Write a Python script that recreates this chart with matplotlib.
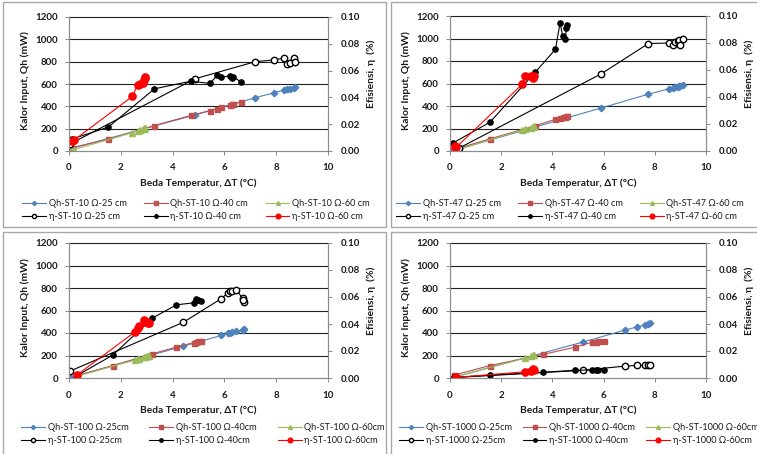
import matplotlib
matplotlib.use("Agg")
import matplotlib.pyplot as plt
from matplotlib.patches import Rectangle

plt.rcParams["font.family"] = ["Lato", "DejaVu Sans"]

W, H = 757, 454

# ST-10
dt_10_25 = [0.05, 4.85, 7.2, 7.9, 8.32, 8.42, 8.55, 8.7, 8.74]
qh_10_25 = [20, 322, 478, 520, 548, 552, 556, 565, 572]
eta_10_25 = [0.0053, 0.0538, 0.0667, 0.0679, 0.0694, 0.0649, 0.0654, 0.0692, 0.0662]
dt_10_40 = [0.1, 1.52, 3.3, 4.7, 5.45, 5.72, 5.85, 6.2, 6.28, 6.35, 6.63]
qh_10_40 = [30, 104, 228, 318, 362, 380, 390, 410, 418, 422, 440]
eta_10_40 = [0.0088, 0.0179, 0.0464, 0.0521, 0.0504, 0.0567, 0.0550, 0.0560, 0.0546, 0.0550, 0.0518]
dt_10_60 = [0.12, 0.18, 2.45, 2.65, 2.75, 2.85, 2.9, 2.93, 2.95]
qh_10_60 = [8, 12, 165, 180, 186, 194, 200, 205, 210]
eta_10_60 = [0.0071, 0.0079, 0.0408, 0.0496, 0.0500, 0.0508, 0.0529, 0.0546, 0.0554]

# ST-47
dt_47_25 = [0.35, 5.9, 7.75, 8.55, 8.7, 8.8, 8.9, 8.95, 9.0, 9.1]
qh_47_25 = [18, 382, 505, 553, 560, 566, 572, 576, 580, 588]
eta_47_25 = [0.0021, 0.0571, 0.0796, 0.0800, 0.0782, 0.0807, 0.0818, 0.0825, 0.0788, 0.0833]
dt_47_40 = [0.12, 1.56, 3.33, 4.12, 4.3, 4.4, 4.5, 4.55, 4.58]
qh_47_40 = [10, 108, 225, 282, 295, 300, 305, 310, 312]
eta_47_40 = [0.0060, 0.0213, 0.0583, 0.0754, 0.0950, 0.0854, 0.0833, 0.0908, 0.0933]
dt_47_60 = [0.2, 0.25, 2.82, 2.93, 3.18, 3.25, 3.28]
qh_47_60 = [5, 8, 188, 194, 208, 214, 220]
eta_47_60 = [0.0038, 0.0029, 0.0493, 0.0554, 0.0554, 0.0542, 0.0558]

# ST-100
dt_100_25 = [0.05, 4.42, 5.88, 6.15, 6.2, 6.3, 6.45, 6.7, 6.75, 6.72]
qh_100_25 = [5, 283, 378, 396, 400, 408, 415, 425, 435, 430]
eta_100_25 = [0.0052, 0.0413, 0.0588, 0.0633, 0.0642, 0.0646, 0.0654, 0.0592, 0.0563, 0.0575]
dt_100_40 = [0.3, 1.7, 3.22, 4.15, 4.82, 4.92, 5.0, 5.08]
qh_100_40 = [20, 111, 215, 275, 315, 320, 325, 328]
eta_100_40 = [0.0017, 0.0171, 0.0444, 0.0542, 0.0557, 0.0583, 0.0575, 0.0567]
dt_100_60 = [0.3, 2.55, 2.65, 2.72, 2.9, 2.95, 3.0, 3.05, 3.1]
qh_100_60 = [15, 160, 165, 170, 186, 190, 194, 197, 200]
eta_100_60 = [0.0021, 0.0342, 0.0367, 0.0383, 0.0427, 0.0417, 0.0413, 0.0407, 0.0410]

# ST-1000
dt_1000_25 = [0.2, 5.2, 6.82, 7.32, 7.6, 7.75, 7.8]
qh_1000_25 = [10, 320, 425, 455, 470, 480, 488]
eta_1000_25 = [0.0004, 0.0057, 0.0088, 0.0093, 0.0093, 0.0093, 0.0096]
dt_1000_40 = [0.15, 1.55, 3.65, 4.9, 5.55, 5.7, 5.8, 6.0]
qh_1000_40 = [25, 110, 210, 275, 318, 322, 326, 330]
eta_1000_40 = [0.0004, 0.0021, 0.0043, 0.0057, 0.0060, 0.0062, 0.0062, 0.0060]
dt_1000_60 = [0.22, 2.92, 3.18, 3.25, 3.3]
qh_1000_60 = [10, 177, 198, 205, 202]
eta_1000_60 = [0.0004, 0.0046, 0.0052, 0.0063, 0.0057]

qh_ticks = [0, 200, 400, 600, 800, 1000, 1200]
eta_ticks = [0.00, 0.02, 0.04, 0.06, 0.08, 0.10]
dt_ticks = [0, 2, 4, 6, 8, 10]

QH_STYLE = [dict(color="#4F81BD", marker="D", ms=3.3),
            dict(color="#C0504D", marker="s", ms=3.6),
            dict(color="#9BBB59", marker="^", ms=4.2)]
ETA_STYLE = [dict(color="black", marker="o", ms=4.6, mfc="white", mec="black"),
             dict(color="black", marker="o", ms=3.8),
             dict(color="#FF0000", marker="o", ms=5.2)]
AXIS_GREY = "#8C8C8C"
TEXT = "#1A1A1A"


def fx(px):
    return px / W


def fy(py):
    return 1 - py / H


def draw_panel(fig, box, name, gap, series, legend_at, colspace):
    left, top, right, bottom = box
    ax = fig.add_axes([fx(left), fy(bottom), fx(right - left), (bottom - top) / H])
    ax2 = ax.twinx()

    handles = []
    for (dt, qh, eta, cm), qs, es in zip(series, QH_STYLE, ETA_STYLE):
        h1, = ax.plot(dt, qh, lw=0.8, label="Qh-ST-%s Ω-%s%scm" % (name, cm, gap), **qs)
        h2, = ax2.plot(dt, eta, lw=0.8, label="η-ST-%s Ω-%s%scm" % (name, cm, gap), **es)
        handles += [h1, h2]

    ax.set_xlim(0, 10)
    ax.set_ylim(0, 1200)
    ax2.set_ylim(0, 0.10)
    ax.set_xticks(dt_ticks)
    ax.set_yticks(qh_ticks)
    ax2.set_yticks(eta_ticks)
    ax2.set_yticklabels(["%.2f" % t for t in eta_ticks])
    for g in qh_ticks[1:]:
        ax.axhline(g, color="#202020", lw=0.8, zorder=0.5, clip_on=False)
    for a in (ax, ax2):
        for side in ("left", "right", "bottom"):
            a.spines[side].set_color(AXIS_GREY)
            a.spines[side].set_linewidth(0.8)
        a.spines["top"].set_visible(False)
        a.tick_params(length=3, width=0.7, color=AXIS_GREY, labelsize=7,
                      labelcolor=TEXT, pad=2)
        for lab in a.get_xticklabels() + a.get_yticklabels():
            lab.set_fontweight("bold")
    ax.tick_params(axis="x", pad=6)
    ax.tick_params(axis="y", pad=5)
    ax2.tick_params(axis="y", pad=6)

    mid = (top + bottom) / 2
    fig.text(fx((left + right) / 2), fy(bottom + 32), "Beda Temperatur, ΔT (°C)",
             ha="center", va="center", fontsize=7.3, fontweight="bold", color=TEXT)
    fig.text(fx(left - 44), fy(mid - 3), "Kalor Input, Qh (mW)", rotation=90,
             ha="center", va="center", fontsize=7.5, fontweight="bold", color=TEXT)
    fig.text(fx(right + 43), fy(mid - 10), "Efisiensi, η  (%)", rotation=90,
             ha="center", va="center", fontsize=7.5, fontweight="bold", color=TEXT)

    leg = fig.legend(handles, [h.get_label() for h in handles], loc="upper left",
                     bbox_to_anchor=(fx(legend_at[0]), fy(legend_at[1])), ncol=3,
                     frameon=False, fontsize=6.6, handlelength=2.6, handletextpad=0.3,
                     columnspacing=colspace, labelspacing=0.45, borderpad=0,
                     borderaxespad=0, markerscale=0.65)
    for t in leg.get_texts():
        t.set_color(TEXT)


fig = plt.figure(figsize=(W / 100, H / 100), dpi=100)

for x0, y0, x1, y1 in [(3, 2, 386, 227), (391, 2, 760, 227),
                       (3, 232, 386, 460), (391, 232, 760, 460)]:
    fig.patches.append(Rectangle((fx(x0), fy(y1)), fx(x1 - x0), (y1 - y0) / H,
                                 transform=fig.transFigure, fill=False,
                                 edgecolor="#A8A8A8", lw=1.0))

draw_panel(fig, (69, 17, 328, 151), "10", " ",
           [(dt_10_25, qh_10_25, eta_10_25, "25"),
            (dt_10_40, qh_10_40, eta_10_40, "40"),
            (dt_10_60, qh_10_60, eta_10_60, "60")],
           (22, 199), 1.9)
draw_panel(fig, (450, 16, 706, 151), "47", " ",
           [(dt_47_25, qh_47_25, eta_47_25, "25"),
            (dt_47_40, qh_47_40, eta_47_40, "40"),
            (dt_47_60, qh_47_60, eta_47_60, "60")],
           (396, 199), 1.9)
draw_panel(fig, (69, 243, 328, 378), "100", "",
           [(dt_100_25, qh_100_25, eta_100_25, "25"),
            (dt_100_40, qh_100_40, eta_100_40, "40"),
            (dt_100_60, qh_100_60, eta_100_60, "60")],
           (21, 423), 2.3)
draw_panel(fig, (450, 243, 706, 378), "1000", "",
           [(dt_1000_25, qh_1000_25, eta_1000_25, "25"),
            (dt_1000_40, qh_1000_40, eta_1000_40, "40"),
            (dt_1000_60, qh_1000_60, eta_1000_60, "60")],
           (399, 423), 1.2)

fig.savefig("out.png", dpi=100)
